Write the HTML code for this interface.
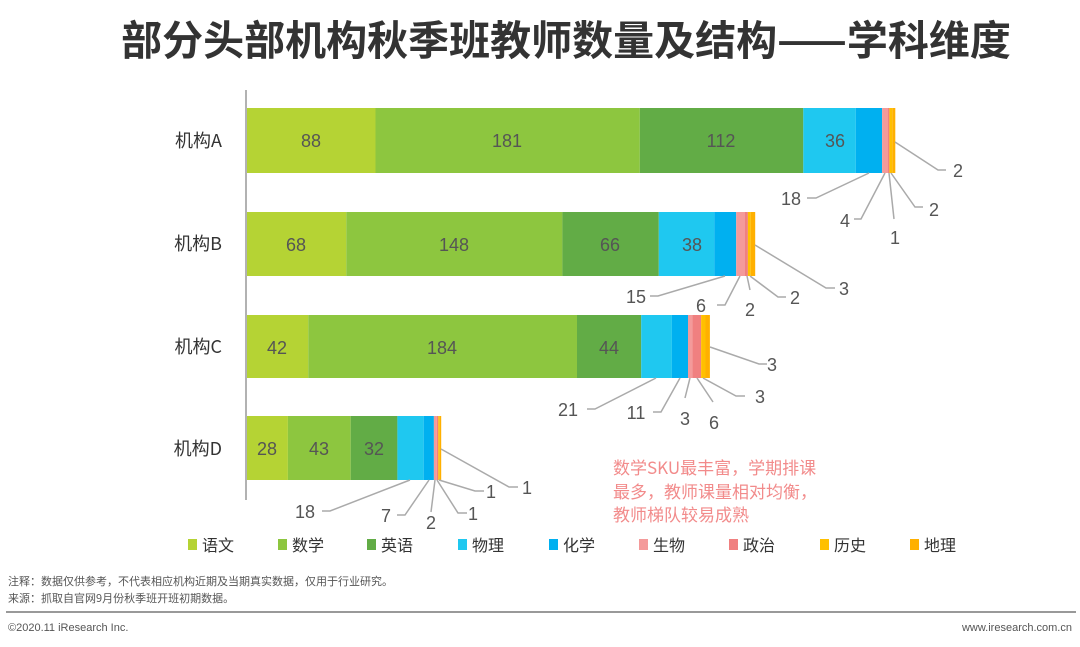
<!DOCTYPE html>
<html><head><meta charset="utf-8"><style>
body{margin:0;background:#fff;}
svg{display:block;font-family:"Liberation Sans","Noto Sans CJK SC",sans-serif;}
</style></head><body>
<svg width="1080" height="647" viewBox="0 0 1080 647" xmlns="http://www.w3.org/2000/svg">
<text x="566" y="55" text-anchor="middle" font-size="41" font-weight="bold" fill="#333" font-family="'Noto Sans CJK SC',sans-serif">部分头部机构秋季班教师数量及结构——学科维度</text>
<line x1="246" y1="90" x2="246" y2="500" stroke="#999" stroke-width="1.5"/>
<g font-size="18" fill="#333" text-anchor="end" font-family="'Noto Sans CJK SC',sans-serif">
<text x="222" y="147">机构A</text><text x="222" y="250">机构B</text><text x="222" y="353">机构C</text><text x="222" y="455">机构D</text>
</g>
<g>
<rect x="247" y="108" width="128.5" height="65" fill="#b5d334"/>
<rect x="375.5" y="108" width="264.3" height="65" fill="#8dc63f"/>
<rect x="639.8" y="108" width="163.5" height="65" fill="#62ac46"/>
<rect x="803.3" y="108" width="52.5" height="65" fill="#1fc8f0"/>
<rect x="855.8" y="108" width="26.3" height="65" fill="#00b0f0"/>
<rect x="882.1" y="108" width="5.9" height="65" fill="#f49a9a"/>
<rect x="888" y="108" width="1.4" height="65" fill="#f08080"/>
<rect x="889.4" y="108" width="2.9" height="65" fill="#ffc000"/>
<rect x="892.3" y="108" width="3" height="65" fill="#ffb000"/>
</g>
<g>
<rect x="247" y="212" width="99.3" height="64" fill="#b5d334"/>
<rect x="346.3" y="212" width="216.1" height="64" fill="#8dc63f"/>
<rect x="562.4" y="212" width="96.4" height="64" fill="#62ac46"/>
<rect x="658.8" y="212" width="55.5" height="64" fill="#1fc8f0"/>
<rect x="714.3" y="212" width="21.9" height="64" fill="#00b0f0"/>
<rect x="736.2" y="212" width="8.8" height="64" fill="#f49a9a"/>
<rect x="745" y="212" width="2.9" height="64" fill="#f08080"/>
<rect x="747.9" y="212" width="2.9" height="64" fill="#ffc000"/>
<rect x="750.8" y="212" width="4.4" height="64" fill="#ffb000"/>
</g>
<g>
<rect x="247" y="315" width="61.3" height="63" fill="#b5d334"/>
<rect x="308.3" y="315" width="268.7" height="63" fill="#8dc63f"/>
<rect x="577" y="315" width="64.2" height="63" fill="#62ac46"/>
<rect x="641.2" y="315" width="30.7" height="63" fill="#1fc8f0"/>
<rect x="671.9" y="315" width="16.1" height="63" fill="#00b0f0"/>
<rect x="688" y="315" width="4.4" height="63" fill="#f49a9a"/>
<rect x="692.4" y="315" width="8.7" height="63" fill="#f08080"/>
<rect x="701.1" y="315" width="4.4" height="63" fill="#ffc000"/>
<rect x="705.5" y="315" width="4.4" height="63" fill="#ffb000"/>
</g>
<g>
<rect x="247" y="416" width="40.9" height="64" fill="#b5d334"/>
<rect x="287.9" y="416" width="62.8" height="64" fill="#8dc63f"/>
<rect x="350.7" y="416" width="46.7" height="64" fill="#62ac46"/>
<rect x="397.4" y="416" width="26.3" height="64" fill="#1fc8f0"/>
<rect x="423.7" y="416" width="10.2" height="64" fill="#00b0f0"/>
<rect x="433.9" y="416" width="2.9" height="64" fill="#f49a9a"/>
<rect x="436.8" y="416" width="1.5" height="64" fill="#f08080"/>
<rect x="438.3" y="416" width="1.4" height="64" fill="#ffc000"/>
<rect x="439.7" y="416" width="1.5" height="64" fill="#ffb000"/>
</g>
<g font-size="18" fill="#555" text-anchor="middle">
<text x="311" y="147">88</text><text x="507" y="147">181</text><text x="721" y="147">112</text><text x="835" y="147">36</text>
<text x="296" y="251">68</text><text x="454" y="251">148</text><text x="610" y="251">66</text><text x="692" y="251">38</text>
<text x="277" y="354">42</text><text x="442" y="354">184</text><text x="609" y="354">44</text>
<text x="267" y="455">28</text><text x="319" y="455">43</text><text x="374" y="455">32</text>
</g>
<g stroke="#aaa" stroke-width="1.5" fill="none">
<polyline points="869,173 816,198 807,198"/>
<polyline points="885,173 861,219 854,219"/>
<polyline points="889,173 894,219"/>
<polyline points="891,173 915,207 923,207"/>
<polyline points="895,142 938,170 946,170"/>
<polyline points="725,276 658,296 650,296"/>
<polyline points="740,276 725,305 717,305"/>
<polyline points="747,276 750,290"/>
<polyline points="750,276 778,297 786,297"/>
<polyline points="755,245 826,288 835,288"/>
<polyline points="656,378 595,409 587,409"/>
<polyline points="680,378 661,412 653,412"/>
<polyline points="690,378 685,398"/>
<polyline points="697,378 713,402"/>
<polyline points="703,378 736,396 745,396"/>
<polyline points="710,347 759,364 767,364"/>
<polyline points="410,480 330,511 322,511"/>
<polyline points="429,480 405,515 397,515"/>
<polyline points="435,480 431,512"/>
<polyline points="437,480 458,513 467,513"/>
<polyline points="439,480 475,491 484,491"/>
<polyline points="441,449 509,487 518,487"/>
</g>
<g font-size="18" fill="#555" text-anchor="middle">
<text x="791" y="205">18</text><text x="845" y="227">4</text><text x="895" y="244">1</text><text x="934" y="216">2</text><text x="958" y="177">2</text>
<text x="636" y="303">15</text><text x="701" y="312">6</text><text x="750" y="316">2</text><text x="795" y="304">2</text><text x="844" y="295">3</text>
<text x="568" y="416">21</text><text x="636" y="419">11</text><text x="685" y="425">3</text><text x="714" y="429">6</text><text x="760" y="403">3</text><text x="772" y="371">3</text>
<text x="305" y="518">18</text><text x="386" y="522">7</text><text x="431" y="529">2</text><text x="473" y="520">1</text><text x="491" y="498">1</text><text x="527" y="494">1</text>
</g>
<g font-size="17" fill="#f28b8b" font-family="'Noto Sans CJK SC',sans-serif">
<text x="613" y="474">数学SKU最丰富，学期排课</text>
<text x="613" y="498">最多，教师课量相对均衡，</text>
<text x="613" y="521">教师梯队较易成熟</text>
</g>
<g font-size="16" fill="#333" font-family="'Noto Sans CJK SC',sans-serif">
<rect x="188" y="539" width="9" height="11" fill="#b5d334"/><text x="202" y="551">语文</text>
<rect x="278" y="539" width="9" height="11" fill="#8dc63f"/><text x="292" y="551">数学</text>
<rect x="367" y="539" width="9" height="11" fill="#62ac46"/><text x="381" y="551">英语</text>
<rect x="458" y="539" width="9" height="11" fill="#1fc8f0"/><text x="472" y="551">物理</text>
<rect x="549" y="539" width="9" height="11" fill="#00b0f0"/><text x="563" y="551">化学</text>
<rect x="639" y="539" width="9" height="11" fill="#f49a9a"/><text x="653" y="551">生物</text>
<rect x="729" y="539" width="9" height="11" fill="#f08080"/><text x="743" y="551">政治</text>
<rect x="820" y="539" width="9" height="11" fill="#ffc000"/><text x="834" y="551">历史</text>
<rect x="910" y="539" width="9" height="11" fill="#ffb000"/><text x="924" y="551">地理</text>
</g>
<g font-size="11" fill="#555" font-family="'Noto Sans CJK SC',sans-serif">
<text x="8" y="585">注释：数据仅供参考，不代表相应机构近期及当期真实数据，仅用于行业研究。</text>
<text x="8" y="602">来源：抓取自官网9月份秋季班开班初期数据。</text>
</g>
<line x1="6" y1="612" x2="1076" y2="612" stroke="#999" stroke-width="2"/>
<text x="8" y="631" font-size="11" fill="#555">©2020.11 iResearch Inc.</text>
<text x="1072" y="631" font-size="11" fill="#555" text-anchor="end">www.iresearch.com.cn</text>
</svg>
</body></html>
